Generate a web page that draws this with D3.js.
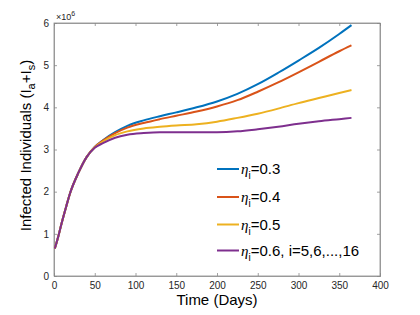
<!DOCTYPE html>
<html>
<head>
<meta charset="utf-8">
<script src="https://cdn.jsdelivr.net/npm/d3@7"></script>
<style>
  html, body { margin: 0; padding: 0; background: #fff; }
  svg { display: block; font-family: "Liberation Sans", Arial, sans-serif; }
</style>
</head>
<body>
<svg id="chart" width="420" height="315"></svg>
<script>
// Values (millions of infected)
const days = [1, 5, 10, 15, 20, 30, 40, 50, 60, 75, 90, 110, 130, 150, 175, 200, 225, 250, 275, 300, 325, 350, 365];
const eta03 = [0.65, 0.92, 1.3, 1.65, 1.98, 2.45, 2.82, 3.06, 3.22, 3.41, 3.56, 3.69, 3.79, 3.88, 4.0, 4.14, 4.32, 4.55, 4.82, 5.11, 5.41, 5.74, 5.95];
const eta04 = [0.65, 0.92, 1.3, 1.65, 1.98, 2.45, 2.82, 3.06, 3.21, 3.39, 3.52, 3.63, 3.72, 3.8, 3.9, 4.02, 4.17, 4.37, 4.59, 4.83, 5.08, 5.33, 5.47];
const eta05 = [0.65, 0.92, 1.3, 1.65, 1.98, 2.45, 2.82, 3.05, 3.19, 3.34, 3.43, 3.5, 3.54, 3.57, 3.6, 3.66, 3.75, 3.85, 3.97, 4.1, 4.22, 4.34, 4.41];
const eta06 = [0.65, 0.92, 1.3, 1.65, 1.98, 2.45, 2.82, 3.04, 3.15, 3.28, 3.35, 3.39, 3.41, 3.41, 3.41, 3.41, 3.43, 3.48, 3.54, 3.61, 3.67, 3.72, 3.75];
const seriesNames = ["0.3", "0.4", "0.5", "0.6, i=5,6,...,16"];
const seriesColors = ["#0072BD", "#D95319", "#EDB120", "#7E2F8E"];
const xTicks = [0, 50, 100, 150, 200, 250, 300, 350, 400];
const yTicks = [0, 1, 2, 3, 4, 5, 6];

const allSeries = [eta03, eta04, eta05, eta06];
const svg = d3.select("#chart");
const L = 54, R = 380, T = 23, B = 276;
const x = d3.scaleLinear().domain([0, 400]).range([L, R]);
const y = d3.scaleLinear().domain([0, 6]).range([B, T]);
const axisColor = "#262626";
const boxColor = "#8a8a8a";

// box
svg.append("rect").attr("x", L).attr("y", T).attr("width", R - L).attr("height", B - T)
  .attr("fill", "#fff").attr("stroke", boxColor).attr("stroke-width", 0.8);

// axes with inward ticks, mirrored on top and right
const gx = svg.append("g").attr("transform", `translate(0,${B})`)
  .call(d3.axisBottom(x).tickValues(xTicks).tickSize(-3).tickPadding(6).tickFormat(d3.format("d")));
const gxTop = svg.append("g").attr("transform", `translate(0,${T})`)
  .call(d3.axisTop(x).tickValues(xTicks).tickSize(-3).tickFormat(""));
const gy = svg.append("g").attr("transform", `translate(${L},0)`)
  .call(d3.axisLeft(y).tickValues(yTicks).tickSize(-3).tickPadding(5).tickFormat(d3.format("d")));
const gyR = svg.append("g").attr("transform", `translate(${R},0)`)
  .call(d3.axisRight(y).tickValues(yTicks).tickSize(-3).tickFormat(""));
[gx, gxTop, gy, gyR].forEach(g => {
  g.select(".domain").attr("stroke", boxColor).attr("stroke-width", 0.8);
  g.selectAll(".tick line").attr("stroke", boxColor).attr("stroke-width", 0.8);
  g.selectAll(".tick text").attr("fill", axisColor).attr("font-size", 10)
    .attr("font-family", "Liberation Sans, Arial, sans-serif");
});

// curves
const line = d3.line().x((d, i) => x(days[i])).y(d => y(d)).curve(d3.curveMonotoneX);
allSeries.forEach((s, k) => {
  svg.append("path").datum(s).attr("d", line).attr("fill", "none")
    .attr("stroke", seriesColors[k]).attr("stroke-width", 2);
});

// exponent label
const ex = svg.append("text").attr("x", 56).attr("y", 20).attr("font-size", 9).attr("fill", axisColor);
ex.append("tspan").text("×10");
ex.append("tspan").attr("dy", -4).attr("font-size", 7).text("6");

// x label
svg.append("text").attr("x", (L + R) / 2).attr("y", 305).attr("text-anchor", "middle")
  .attr("font-size", 15).attr("fill", "#000").text("Time (Days)");

// y label
const yl = svg.append("text").attr("transform", `translate(31,${(T + B) / 2 - 4}) rotate(-90)`)
  .attr("text-anchor", "middle").attr("font-size", 15).attr("fill", "#000");
yl.append("tspan").text("Infected Individuals (I");
yl.append("tspan").attr("dy", 4).attr("font-size", 11).text("a");
yl.append("tspan").attr("dy", -4).text("+I");
yl.append("tspan").attr("dy", 4).attr("font-size", 11).text("s");
yl.append("tspan").attr("dy", -4).text(")");

// legend
const legendY = [169, 197, 224.5, 250.5];
seriesNames.forEach((name, k) => {
  const yy = legendY[k];
  svg.append("line").attr("x1", 217).attr("x2", 239).attr("y1", yy).attr("y2", yy)
    .attr("stroke", seriesColors[k]).attr("stroke-width", 2);
  const t = svg.append("text").attr("x", 241).attr("y", yy + 5).attr("font-size", 15).attr("fill", "#000");
  t.append("tspan").attr("font-style", "italic").attr("font-family", "Liberation Serif, serif").text("η");
  t.append("tspan").attr("dy", 5).attr("font-size", 10).text("i");
  t.append("tspan").attr("dy", -5).text("=" + name);
});
</script>
</body>
</html>
